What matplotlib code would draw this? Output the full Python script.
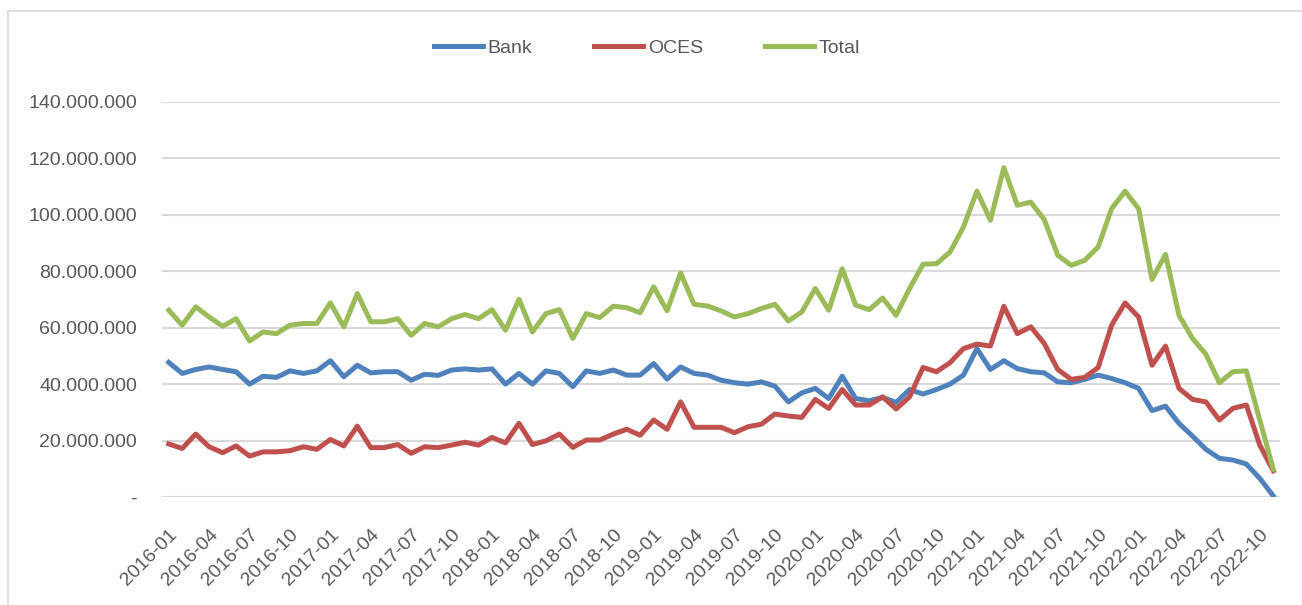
import numpy as np
import pandas as pd
import matplotlib
matplotlib.use("Agg")
import matplotlib.pyplot as plt
from matplotlib.patches import Rectangle
from matplotlib.ticker import FuncFormatter

# monthly categories 2016-01 .. 2022-11
months = [p.strftime("%Y-%m") for p in pd.period_range("2016-01", "2022-11", freq="M")]

# values in millions
bank = [47.7, 43.8, 45.2, 46.1, 45.2, 44.4, 40.0, 42.8, 42.4, 44.7, 43.8, 44.7, 48.3, 42.6,
        46.7, 44.0, 44.4, 44.4, 41.4, 43.5, 43.1, 45.0, 45.4, 45.0, 45.4, 40.0, 43.8,
        40.0, 44.7, 43.8, 39.1, 44.7, 43.8, 45.0, 43.2, 43.2, 47.3, 41.8, 46.1, 43.8,
        43.2, 41.4, 40.5, 40.0, 40.8, 39.3, 33.7, 36.9, 38.5, 34.9, 42.8, 34.9, 34.1,
        35.3, 33.5,
        38.1, 36.5, 38.1, 40.0, 43.2, 52.6, 45.2, 48.3, 45.5, 44.4, 44.0, 40.8, 40.5,
        41.7, 43.2, 42.0, 40.5, 38.5, 30.6, 32.2, 26.1, 21.6, 16.9, 13.7, 13.1, 11.7,
        6.6, 0.4]
oces = [18.8, 17.2, 22.3, 17.8, 15.7, 18.1, 14.5, 16.0, 16.0, 16.4, 17.8, 16.9, 20.4, 18.1,
        25.1, 17.5, 17.5, 18.6, 15.5, 17.8, 17.5, 18.4, 19.4, 18.4, 21.1, 19.2, 26.1,
        18.6, 19.9, 22.3, 17.6, 20.2, 20.2, 22.3, 24.0, 21.9, 27.3, 24.0, 33.7, 24.7,
        24.7, 24.7, 22.8, 24.9, 25.8, 29.4, 28.7, 28.2, 34.6, 31.4, 38.1, 32.6, 32.6,
        35.5, 31.2,
        35.5, 45.9, 44.4, 47.6, 52.6, 54.2, 53.5, 67.6, 57.9, 60.3, 54.4, 45.2, 41.7,
        42.4, 45.9, 60.9, 68.8, 63.8, 46.7, 53.5, 38.5, 34.6, 33.7, 27.3, 31.4, 32.6,
        18.4, 9.3]
total = [66.2, 60.9, 67.4, 63.8, 60.5, 63.2, 55.3, 58.5, 57.9, 60.9, 61.5, 61.5, 68.8, 60.3,
         72.1, 62.1, 62.1, 63.2, 57.3, 61.5, 60.3, 63.2, 64.7, 63.2, 66.4, 59.1, 70.1,
         58.5, 65.0, 66.4, 56.2, 65.0, 63.6, 67.6, 67.1, 65.3, 74.5, 66.0, 79.4, 68.3,
         67.7, 66.0, 63.8, 65.0, 66.8, 68.3, 62.4, 65.6, 73.9, 66.2, 80.9, 68.0, 66.4,
         70.5, 64.4,
         73.9, 82.5, 82.7, 86.8, 95.7, 108.4, 98.1, 116.7, 103.4, 104.5, 98.3, 85.7, 82.1,
         83.9, 88.6, 102.2, 108.4, 102.2, 77.1, 86.0, 64.4, 56.2, 50.6, 40.5, 44.4, 44.7,
         27.3, 9.8]

plt.rcParams['font.family'] = ['Liberation Sans', 'DejaVu Sans']

fig = plt.figure(figsize=(13.02, 6.05), dpi=100)
fig.patches.append(Rectangle((8/1302, -0.01), 1.0, 1 - 11/605 + 0.01, transform=fig.transFigure,
                             fill=False, edgecolor='#d9d9d9', linewidth=1.2))
ax = fig.add_axes([162/1302, 108/605, (1280-162)/1302, (497-102)/605])

x = np.arange(len(months))
scale = 1e6
ax.plot(x, np.array(bank)*scale, color='#4f81bd', lw=3.6, label='Bank', solid_joinstyle='round')
ax.plot(x, np.array(oces)*scale, color='#c0504d', lw=3.6, label='OCES', solid_joinstyle='round')
ax.plot(x, np.array(total)*scale, color='#9bbb59', lw=3.6, label='Total', solid_joinstyle='round')

ax.set_xlim(-0.5, len(months) - 0.5)
ax.set_ylim(0, 140e6)
ax.set_yticks(np.arange(0, 140e6 + 1, 20e6))
ax.yaxis.set_major_formatter(FuncFormatter(
    lambda v, p: '-' if v == 0 else f"{int(round(v)):,}".replace(',', '.')))
ax.grid(axis='y', color='#d9d9d9', lw=1.5)
ax.set_axisbelow(True)
for s in ax.spines.values():
    s.set_visible(False)

ax.set_xticks(x[::3])
ax.set_xticklabels(months[::3], rotation=45, ha='right', rotation_mode='anchor')
ax.tick_params(axis='x', length=0, pad=21, labelsize=14, labelcolor='#595959')
ax.tick_params(axis='y', length=0, pad=18, labelsize=14, labelcolor='#595959')

fig.legend(loc='center', bbox_to_anchor=(647/1302, 1 - 48/605), ncol=3, frameon=False,
           handlelength=2.5, handletextpad=0.25, columnspacing=3.2,
           prop={'size': 14}, labelcolor='#595959')

fig.savefig('out.png', dpi=100)
